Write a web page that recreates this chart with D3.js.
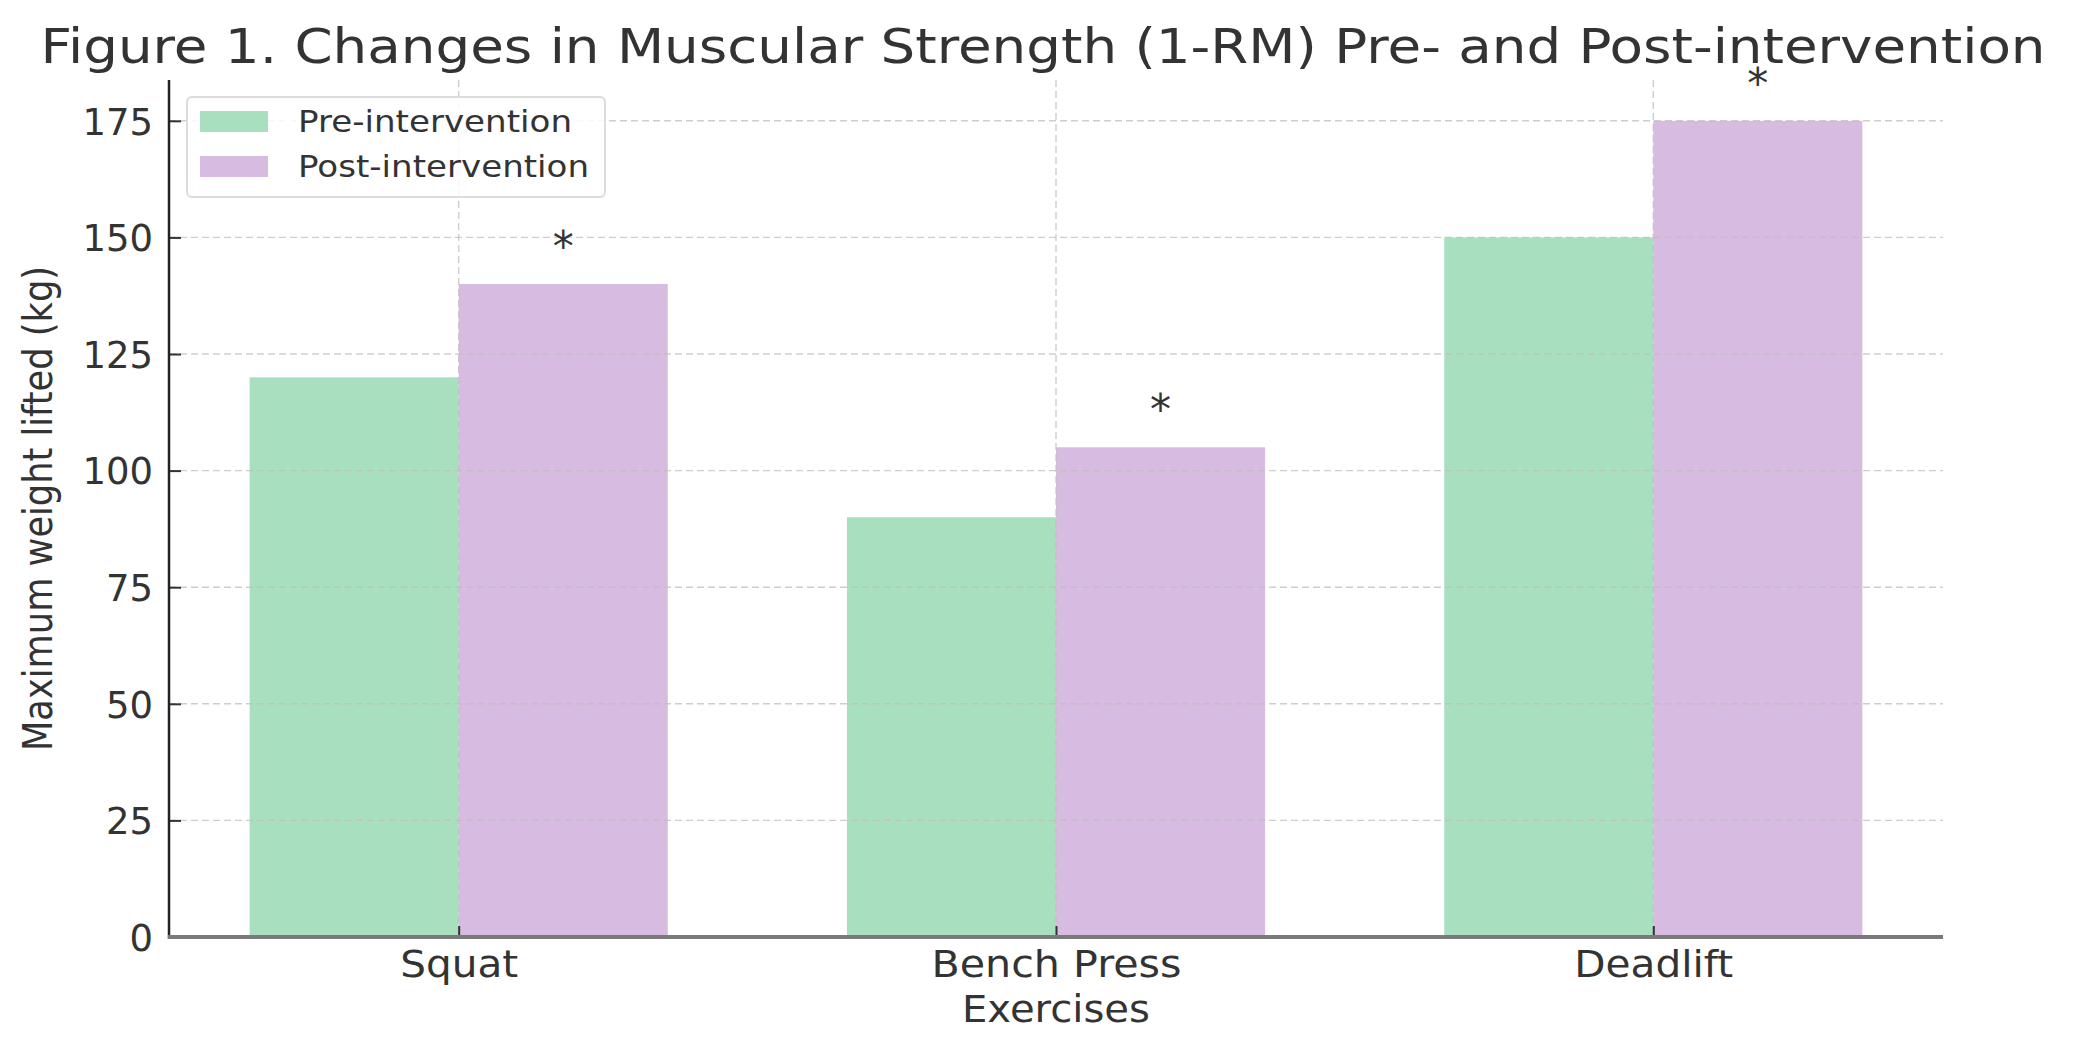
<!DOCTYPE html>
<html>
<head>
<meta charset="utf-8">
<script src="https://cdn.jsdelivr.net/npm/d3@7"></script>
<style>
  html, body { margin: 0; padding: 0; background: #fff; }
  svg { display: block; }
  text { font-family: "DejaVu Sans", sans-serif; fill: #333; }
</style>
</head>
<body>
<svg id="chart" width="2084" height="1042"></svg>
<script>
// ---- data ----
const exercises = ["Squat", "Bench Press", "Deadlift"];
const preValues = [120, 90, 150];
const postValues = [140, 105, 175];
const significant = ["*", "*", "*"];
const seriesNames = ["Pre-intervention", "Post-intervention"];
const yTicks = [0, 25, 50, 75, 100, 125, 150, 175];
const titleText = "Figure 1. Changes in Muscular Strength (1-RM) Pre- and Post-intervention";
const xLabel = "Exercises";
const yLabel = "Maximum weight lifted (kg)";

// ---- layout ----
const W = 2084, H = 1042;
const plot = { left: 169, right: 1943, top: 80, bottom: 937 };
const barW = 0.35;
const colors = ["#a8dfbf", "#d7bbe1"];
// rendered text widths measured on the reference (px)
const xTickWidths = [118, 250, 159];
const legendWidths = [274, 291];

const svg = d3.select("#chart");

const span = exercises.length - 1 + 2 * barW;
const x = d3.scaleLinear()
  .domain([-barW - 0.05 * span, exercises.length - 1 + barW + 0.05 * span])
  .range([plot.left, plot.right]);
const yMax = d3.max(postValues.concat(preValues)) * 1.05;
const y = d3.scaleLinear().domain([0, yMax]).range([plot.bottom, plot.top]);

// bars
const groups = [preValues, postValues];
groups.forEach((vals, s) => {
  svg.append("g").selectAll("rect").data(vals).join("rect")
    .attr("x", (d, i) => x(i + (s === 0 ? -barW : 0)))
    .attr("width", x(barW) - x(0))
    .attr("y", d => y(d))
    .attr("height", d => y(0) - y(d))
    .attr("fill", colors[s]);
});

// grid (drawn over bars, as in reference)
const grid = svg.append("g").attr("stroke", "#bdbdbd").attr("stroke-opacity", 0.75)
  .attr("stroke-width", 1.4).attr("stroke-dasharray", "7,4").attr("fill", "none");
grid.selectAll("line.h").data(yTicks).join("line").attr("class", "h")
  .attr("x1", plot.left).attr("x2", plot.right)
  .attr("y1", d => y(d)).attr("y2", d => y(d));
grid.selectAll("line.v").data(exercises).join("line").attr("class", "v")
  .attr("x1", (d, i) => x(i)).attr("x2", (d, i) => x(i))
  .attr("y1", plot.top).attr("y2", plot.bottom);

// y axis
const yAxis = d3.axisRight(y).tickValues(yTicks).tickSize(12).tickFormat(d3.format("d"));
const gy = svg.append("g").attr("transform", `translate(${plot.left},0)`).call(yAxis);
gy.select(".domain").remove();
gy.selectAll(".tick line").attr("stroke", "#333").attr("stroke-width", 2);
gy.selectAll(".tick text")
  .attr("x", -16).attr("text-anchor", "end").attr("dy", "0.36em")
  .style("font-size", "37px").attr("fill", "#333");
svg.append("line").attr("x1", plot.left).attr("x2", plot.left)
  .attr("y1", plot.top).attr("y2", plot.bottom + 2)
  .attr("stroke", "#222").attr("stroke-width", 2.5);

// x axis
const xAxis = d3.axisTop(x).tickValues(d3.range(exercises.length)).tickSize(11)
  .tickFormat(i => exercises[i]);
const gx = svg.append("g").attr("transform", `translate(0,${plot.bottom})`).call(xAxis);
gx.select(".domain").remove();
gx.selectAll(".tick line").attr("stroke", "#333").attr("stroke-width", 2);
gx.selectAll(".tick text")
  .attr("y", 40).attr("dy", 0).attr("text-anchor", "middle")
  .style("font-size", "38px").attr("fill", "#333")
  .attr("textLength", i => xTickWidths[i]).attr("lengthAdjust", "spacingAndGlyphs");
svg.append("line").attr("x1", plot.left - 1).attr("x2", plot.right)
  .attr("y1", plot.bottom).attr("y2", plot.bottom)
  .attr("stroke", "#7a7a7a").attr("stroke-width", 4);

// significance markers
svg.append("g").selectAll("text").data(postValues).join("text")
  .attr("x", (d, i) => x(i + barW / 2))
  .attr("y", d => y(d + 10.5))
  .attr("dy", "0.62em")
  .attr("text-anchor", "middle")
  .style("font-size", "42px")
  .text((d, i) => significant[i]);

// axis labels
svg.append("text").attr("x", (plot.left + plot.right) / 2).attr("y", 1022)
  .attr("text-anchor", "middle").style("font-size", "37px")
  .attr("textLength", 188).attr("lengthAdjust", "spacingAndGlyphs").text(xLabel);
svg.append("text")
  .attr("transform", `translate(52,${(plot.top + plot.bottom) / 2}) rotate(-90)`)
  .attr("text-anchor", "middle").style("font-size", "40px")
  .attr("textLength", 485).attr("lengthAdjust", "spacingAndGlyphs")
  .text(yLabel);

// title
svg.append("text").attr("x", 1043).attr("y", 63)
  .attr("text-anchor", "middle").style("font-size", "48px")
  .attr("textLength", 2005).attr("lengthAdjust", "spacingAndGlyphs")
  .text(titleText);

// legend
const lg = svg.append("g");
lg.append("rect").attr("x", 187).attr("y", 97).attr("width", 418).attr("height", 100)
  .attr("rx", 5).attr("fill", "#fff").attr("fill-opacity", 0.85)
  .attr("stroke", "#dcdcdc").attr("stroke-width", 2);
seriesNames.forEach((name, s) => {
  const yy = 121 + s * 45;
  lg.append("rect").attr("x", 200).attr("y", yy - 10).attr("width", 68).attr("height", 21)
    .attr("fill", colors[s]);
  lg.append("text").attr("x", 298).attr("y", yy + 11)
    .style("font-size", "30px")
    .attr("textLength", legendWidths[s]).attr("lengthAdjust", "spacingAndGlyphs")
    .text(name);
});
</script>
</body>
</html>
